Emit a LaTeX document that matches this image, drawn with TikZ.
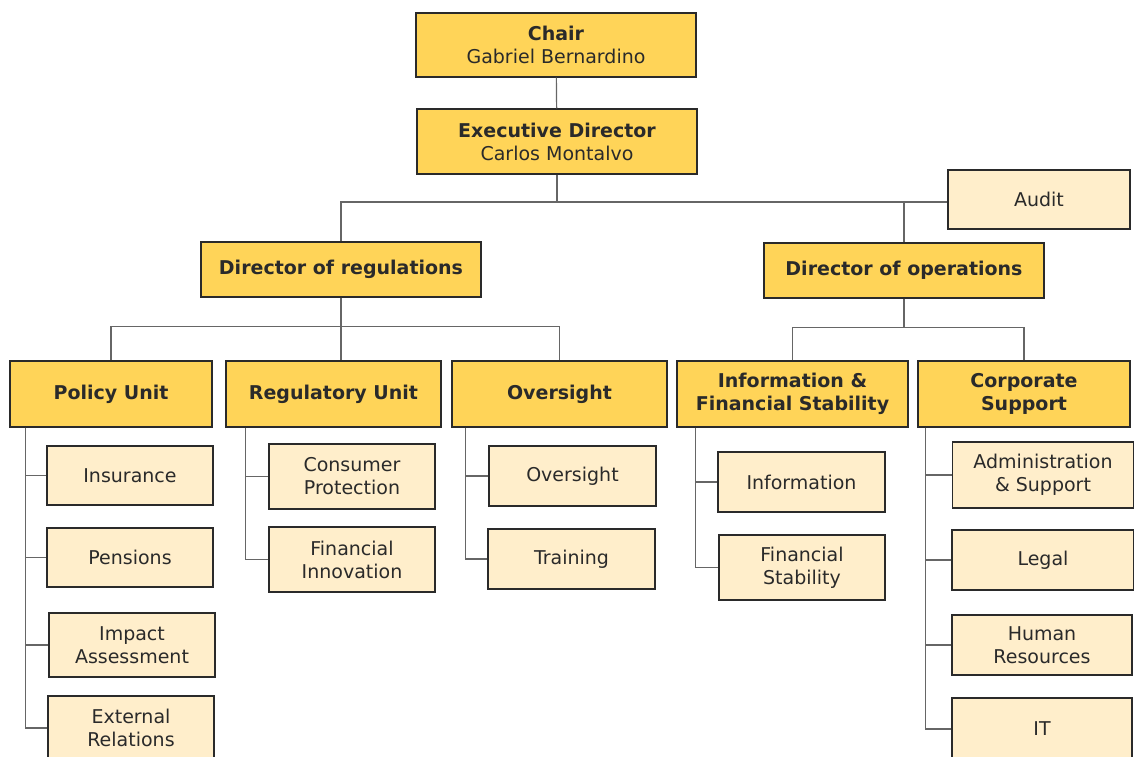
\documentclass[tikz,border=0pt]{standalone}
\usepackage{fontspec}
\setmainfont{DejaVu Sans}
\definecolor{boxdark}{HTML}{FFD458}
\definecolor{boxlight}{HTML}{FFEECB}
\definecolor{ink}{HTML}{2A2A2A}

\begin{document}
\begin{tikzpicture}[x=1pt,y=-1pt,
    every node/.style={font=\fontsize{19}{23}\selectfont, text=ink, align=center, inner sep=0pt},
    chief/.style={draw=ink, line width=1.3pt, fill=boxdark},
    unit/.style={draw=ink, line width=1.3pt, fill=boxlight},
    link/.style={draw=black!60, line width=1.2pt}]
    \useasboundingbox (0,0) rectangle (1134,756);
    % top of the chart
    \node[chief, minimum width=280, minimum height=64] (chair) at (556,45) {\textbf{Chair}\\Gabriel Bernardino};
    \node[chief, minimum width=280, minimum height=65] (exec) at (557,141.5) {\textbf{Executive Director}\\Carlos Montalvo};
    \node[unit, minimum width=182, minimum height=59] (audit) at (1039,199.5) {Audit};
    \node[chief, minimum width=280, minimum height=55] (regs) at (341,269.5) {\textbf{Director of regulations}};
    \node[chief, minimum width=280, minimum height=55] (ops) at (904,270.5) {\textbf{Director of operations}};
    % units
    \node[chief, minimum width=202, minimum height=66] (policy) at (111,394) {\textbf{Policy Unit}};
    \node[chief, minimum width=215, minimum height=66] (regunit) at (333.5,394) {\textbf{Regulatory Unit}};
    \node[chief, minimum width=215, minimum height=66] (oversight) at (559.5,394) {\textbf{Oversight}};
    \node[chief, minimum width=231, minimum height=66] (info) at (792.5,394) {\textbf{Information \&}\\\textbf{Financial Stability}};
    \node[chief, minimum width=212, minimum height=66] (corp) at (1024,394) {\textbf{Corporate}\\\textbf{Support}};
    % teams
    \node[unit, minimum width=166, minimum height=59] (ins) at (130,475.5) {Insurance};
    \node[unit, minimum width=166, minimum height=59] (pen) at (130,557.5) {Pensions};
    \node[unit, minimum width=166, minimum height=64] (imp) at (132,645) {Impact\\Assessment};
    \node[unit, minimum width=166, minimum height=64] (ext) at (131,728) {External\\Relations};
    \node[unit, minimum width=166, minimum height=65] (cons) at (352,476.5) {Consumer\\Protection};
    \node[unit, minimum width=166, minimum height=65] (fin) at (352,559.5) {Financial\\Innovation};
    \node[unit, minimum width=167, minimum height=60] (ovs) at (572.5,476) {Oversight};
    \node[unit, minimum width=167, minimum height=60] (train) at (571.5,559) {Training};
    \node[unit, minimum width=167, minimum height=60] (infoi) at (801.5,482) {Information};
    \node[unit, minimum width=166, minimum height=65] (finst) at (802,567.5) {Financial\\Stability};
    \node[unit, minimum width=181, minimum height=66] (admin) at (1043,475) {Administration\\\& Support};
    \node[unit, minimum width=182, minimum height=60] (legal) at (1043,560) {Legal};
    \node[unit, minimum width=180, minimum height=60] (hr) at (1042,645) {Human\\Resources};
    \node[unit, minimum width=180, minimum height=62] (it) at (1042,729) {IT};
    % connectors
    \draw[link] (chair) -- (exec);
    \draw[link] (regs.north) |- ([yshift=-2.5]audit.west) coordinate (tb);
    \draw[link] (exec) -- (exec |- tb);
    \draw[link] (ops.north) -- (ops.north |- tb);
    \draw[link] (policy.north) -- ++(0,-34) coordinate (rb) -| (oversight.north);
    \draw[link] (regs.south) -- (regs.south |- regunit.north);
    \draw[link] (info.north) -- ++(0,-33) coordinate (ob) -| (corp.north);
    \draw[link] (ops.south) -- (ops.south |- ob);
    \foreach \t in {ins,pen,imp,ext}
        \draw[link] ([xshift=16]policy.south west) |- (\t.west);
    \foreach \t in {cons,fin}
        \draw[link] ([xshift=20]regunit.south west) |- (\t.west);
    \foreach \t in {ovs,train}
        \draw[link] ([xshift=14]oversight.south west) |- (\t.west);
    \foreach \t in {infoi,finst}
        \draw[link] ([xshift=19]info.south west) |- (\t.west);
    \foreach \t in {admin,legal,hr,it}
        \draw[link] ([xshift=8]corp.south west) |- (\t.west);
\end{tikzpicture}
\end{document}
